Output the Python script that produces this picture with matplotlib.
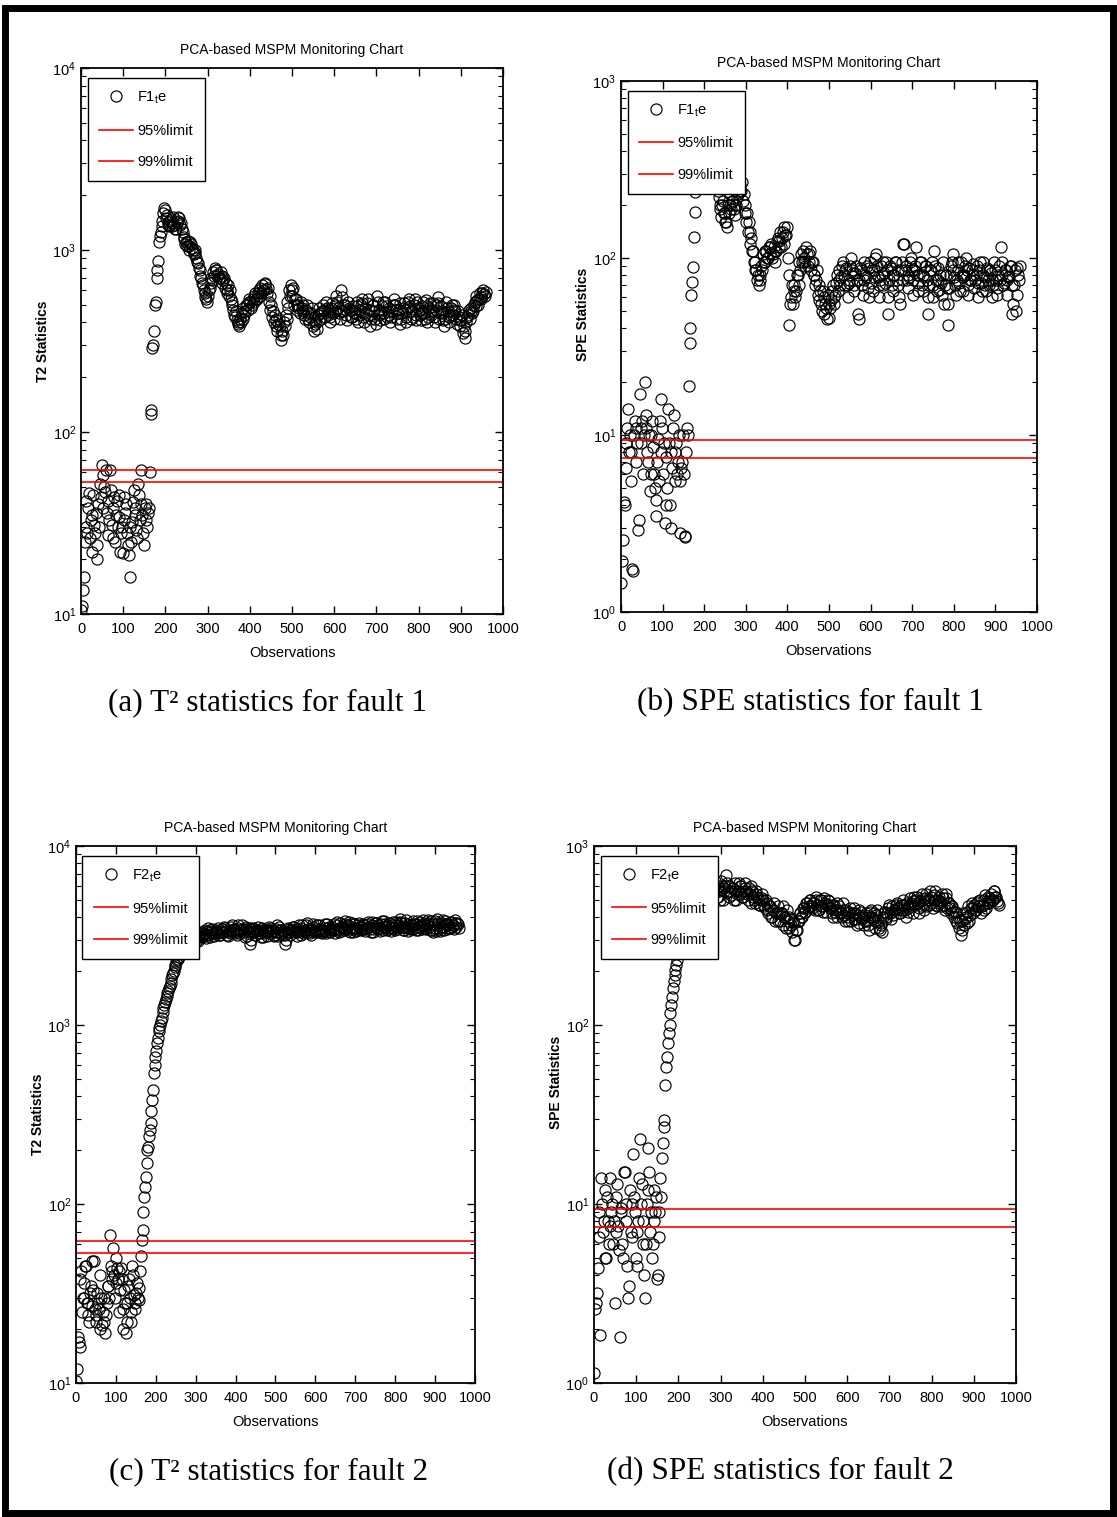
import numpy as np
import matplotlib.pyplot as plt
from matplotlib import font_manager
from matplotlib.patches import Rectangle
from matplotlib.ticker import LogLocator, MultipleLocator, NullFormatter

# fuentes: Arial Narrow-like si existe
names = {f.name for f in font_manager.fontManager.ttflist}
narrow = 'Liberation Sans Narrow' if 'Liberation Sans Narrow' in names else 'Liberation Sans'
plt.rcParams['font.family'] = [narrow, 'DejaVu Sans']
plt.rcParams['mathtext.fontset'] = 'custom'
plt.rcParams['mathtext.rm'] = narrow

# DATOS (una muestra cada 2 observaciones: 1, 3, 5, ...)
t2_fault1 = [
    10.5, 11, 13.5, 16, 25, 42, 30, 28, 38, 46,
    26, 33, 35, 22, 45, 31, 28, 36, 24, 20,
    40, 30, 52, 44, 66, 38, 58, 50, 47, 62,
    36, 42, 27, 33, 62, 48, 31, 26, 38, 44,
    25, 35, 42, 30, 34, 45, 22, 28, 30, 21.5,
    44, 33, 36, 40, 28, 24, 21, 30, 16, 25,
    32, 41, 48, 35, 38, 29, 26, 52, 45, 33,
    62, 40, 35, 28, 24, 38, 40, 33, 30, 36,
    38, 60, 125, 132, 290, 300, 360, 500, 520, 700,
    780, 870, 1100, 1200, 1250, 1350, 1450, 1600, 1700, 1650,
    1500, 1550, 1420, 1380, 1350, 1450, 1480, 1350, 1520, 1400,
    1380, 1300, 1300, 1420, 1450, 1520, 1500, 1380, 1400, 1300,
    1250, 1180, 1150, 1080, 1100, 1050, 1120, 1000, 1050, 1100,
    1080, 1020, 1000, 950, 960, 1000, 900, 860, 850, 800,
    780, 720, 700, 660, 640, 600, 580, 550, 540, 520,
    560, 600, 620, 660, 700, 680, 760, 720, 800, 780,
    780, 720, 740, 700, 700, 760, 720, 660, 680, 700,
    620, 660, 580, 600, 640, 560, 600, 540, 520, 500,
    470, 440, 430, 460, 410, 400, 390, 380, 420, 400,
    450, 420, 480, 440, 460, 500, 500, 470, 540, 520,
    520, 480, 500, 540, 560, 520, 580, 540, 540, 580,
    600, 560, 620, 580, 640, 600, 600, 660, 650, 610,
    580, 620, 520, 560, 470, 500, 430, 460, 400, 440,
    380, 410, 360, 390, 420, 380, 340, 320, 360, 340,
    400, 380, 440, 420, 520, 480, 600, 560, 640, 600,
    560, 620, 500, 540, 540, 500, 470, 500, 480, 450,
    520, 480, 460, 500, 440, 420, 470, 500, 420, 450,
    400, 430, 450, 480, 380, 410, 360, 390, 400, 370,
    440, 410, 480, 450, 420, 460, 500, 470, 460, 430,
    520, 480, 440, 470, 400, 430, 480, 510, 450, 420,
    500, 460, 560, 520, 480, 450, 420, 460, 600, 550,
    460, 500, 500, 470, 440, 410, 520, 480, 470, 430,
    430, 470, 490, 450, 450, 420, 520, 490, 400, 440,
    470, 500, 540, 510, 430, 400, 480, 450, 510, 540,
    440, 470, 380, 420, 460, 500, 500, 460, 420, 390,
    560, 520, 470, 440, 410, 450, 490, 520, 450, 420,
    520, 490, 430, 460, 480, 440, 400, 430, 460, 500,
    540, 500, 500, 470, 420, 450, 470, 510, 390, 420,
    450, 480, 510, 470, 430, 400, 480, 520, 540, 490,
    420, 460, 460, 430, 500, 540, 440, 410, 520, 480,
    470, 440, 410, 450, 490, 520, 450, 420, 530, 490,
    400, 430, 480, 510, 440, 470, 510, 460, 430, 400,
    470, 500, 550, 510, 420, 450, 490, 460, 450, 410,
    380, 420, 520, 480, 460, 430, 400, 440, 480, 500,
    440, 470, 500, 460, 420, 390, 460, 430, 380, 410,
    410, 440, 350, 380, 330, 360, 400, 430, 440, 470,
    420, 460, 480, 450, 460, 500, 520, 490, 560, 530,
    500, 540, 580, 550, 540, 580, 600, 570, 560, 590]

spe_fault1 = [
    1.45, 1.95, 2.55, 4.2, 4.0, 6.5, 9, 11, 14, 8,
    10, 5.5, 8, 1.75, 1.7, 10, 12, 7, 11, 9,
    2.9, 3.3, 17, 11, 9, 12, 6, 10, 20, 13,
    11, 8, 7, 10, 4.8, 6, 10, 12, 8.5, 6,
    5, 4.3, 3.5, 7, 9.5, 5.5, 12, 8, 16, 11,
    6, 9, 3.2, 4, 7.5, 5, 14, 9, 4, 3,
    8, 6.5, 11, 13, 5.5, 8, 9, 6, 7, 10,
    2.8, 5.5, 6.5, 7, 10, 6, 2.7, 2.65, 8, 11,
    10, 19, 33, 40, 62, 73, 89, 131, 182, 235,
    260, 280, 300, 320, 290, 310, 300, 280, 270, 300,
    290, 310, 300, 280, 270, 300, 280, 290, 260, 280,
    290, 300, 270, 280, 260, 250, 240, 220, 200, 190,
    170, 200, 210, 180, 180, 160, 160, 150, 200, 180,
    230, 200, 190, 210, 210, 190, 175, 200, 200, 220,
    230, 250, 260, 240, 240, 270, 210, 230, 180, 200,
    160, 180, 140, 160, 120, 140, 130, 110, 110, 95,
    95, 85, 85, 75, 80, 70, 75, 80, 90, 85,
    105, 95, 95, 110, 110, 100, 100, 115, 115, 105,
    120, 100, 105, 115, 95, 110, 110, 125, 130, 115,
    125, 140, 115, 130, 140, 120, 150, 135, 135, 150,
    100, 80, 42, 55, 60, 70, 55, 65, 70, 60,
    65, 80, 80, 70, 95, 85, 105, 95, 110, 95,
    100, 90, 115, 105, 90, 95, 105, 110, 85, 95,
    95, 80, 80, 70, 75, 85, 62, 70, 58, 65,
    55, 50, 65, 60, 48, 55, 52, 45, 62, 55,
    46, 52, 58, 65, 70, 60, 55, 62, 72, 80,
    65, 75, 85, 70, 78, 90, 95, 80, 70, 85,
    88, 70, 60, 72, 75, 90, 100, 85, 82, 65,
    70, 82, 90, 75, 48, 45, 75, 88, 85, 70,
    62, 75, 95, 80, 78, 90, 68, 60, 88, 95,
    72, 85, 65, 78, 85, 100, 105, 90, 78, 70,
    60, 75, 90, 80, 70, 95, 82, 72, 95, 85,
    48, 60, 75, 90, 88, 70, 65, 80, 80, 95,
    95, 75, 70, 85, 60, 55, 85, 95, 75, 120,
    120, 85, 90, 75, 68, 80, 78, 95, 100, 85,
    62, 75, 85, 90, 115, 80, 72, 65, 80, 95,
    95, 70, 65, 80, 78, 90, 90, 75, 48, 60,
    70, 85, 85, 95, 60, 70, 110, 90, 75, 65,
    88, 75, 66, 80, 72, 62, 95, 80, 55, 70,
    80, 68, 42, 55, 68, 80, 90, 95, 105, 85,
    78, 70, 62, 75, 85, 95, 72, 65, 95, 80,
    65, 78, 80, 90, 100, 85, 70, 62, 88, 75,
    75, 85, 92, 80, 68, 75, 80, 90, 60, 72,
    85, 95, 72, 65, 95, 80, 78, 70, 65, 85,
    88, 75, 70, 85, 82, 75, 60, 70, 95, 85,
    75, 62, 68, 80, 90, 75, 115, 95, 80, 70,
    72, 85, 85, 75, 62, 78, 78, 90, 90, 70,
    48, 55, 70, 85, 50, 62, 88, 80, 75, 90]

t2_fault2 = [
    10.2, 12, 18, 17, 15.8, 38, 42, 25, 30, 36,
    30, 45, 45, 28, 28, 24, 22, 32, 35, 48,
    27, 33, 48, 26, 24, 22, 32, 28, 26, 20,
    40, 30, 21, 25, 30, 22, 19, 24, 28, 35,
    35, 30, 67, 45, 42, 38, 57, 40, 30, 36,
    50, 44, 38, 42, 25, 33, 44, 38, 20, 26,
    33, 28, 19, 22, 28, 35, 38, 30, 22, 25,
    45, 40, 31, 28, 26, 32, 36, 30, 29, 34,
    42, 51, 63, 72, 90, 110, 125, 141, 170, 200,
    209, 240, 260, 283, 330, 380, 433, 540, 600, 660,
    720, 790, 850, 920, 960, 1000, 1050, 1100, 1180, 1250,
    1300, 1350, 1400, 1450, 1500, 1550, 1600, 1650, 1720, 1800,
    1900, 1950, 2000, 2100, 2150, 2250, 2300, 2350, 2400, 2500,
    2550, 2650, 2700, 2740, 2800, 2650, 2750, 2900, 2900, 2850,
    2950, 3050, 3000, 2900, 2850, 3050, 3100, 3000, 3050, 3150,
    3200, 3000, 2950, 3100, 3150, 3250, 3300, 3100, 3100, 3200,
    3250, 3400, 3050, 3200, 3350, 3500, 3200, 3100, 3400, 3300,
    3450, 3250, 3300, 3150, 3250, 3400, 3350, 3500, 3250, 3200,
    3200, 3350, 3450, 3300, 3300, 3550, 3500, 3350, 3350, 3200,
    3150, 3300, 3400, 3250, 3550, 3600, 3300, 3400, 3450, 3250,
    3350, 3200, 3500, 3600, 3250, 3400, 3400, 3300, 3600, 3450,
    3300, 3100, 3450, 3550, 3150, 3300, 3350, 3500, 2850, 3000,
    3300, 3500, 3450, 3300, 3200, 3350, 3400, 3250, 3550, 3400,
    3250, 3100, 3350, 3500, 3100, 3250, 3450, 3350, 3300, 3150,
    3400, 3550, 3250, 3400, 3500, 3300, 3350, 3200, 3150, 3300,
    3450, 3600, 3300, 3150, 3550, 3400, 3400, 3250, 3200, 3350,
    3350, 3200, 2850, 3000, 3300, 3500, 3450, 3300, 3200, 3400,
    3400, 3550, 3550, 3350, 3300, 3450, 3150, 3300, 3450, 3600,
    3350, 3200, 3500, 3600, 3250, 3350, 3400, 3300, 3600, 3700,
    3300, 3450, 3450, 3250, 3200, 3400, 3550, 3650, 3350, 3300,
    3450, 3600, 3300, 3400, 3600, 3450, 3400, 3300, 3250, 3350,
    3500, 3650, 3350, 3250, 3650, 3500, 3400, 3550, 3300, 3450,
    3550, 3400, 3400, 3650, 3250, 3400, 3600, 3750, 3450, 3300,
    3700, 3550, 3350, 3500, 3500, 3400, 3800, 3650, 3450, 3550,
    3600, 3750, 3400, 3300, 3550, 3700, 3300, 3450, 3650, 3500,
    3500, 3350, 3400, 3600, 3700, 3550, 3550, 3400, 3450, 3650,
    3600, 3450, 3350, 3500, 3500, 3650, 3750, 3550, 3450, 3300,
    3600, 3750, 3300, 3450, 3550, 3700, 3700, 3500, 3450, 3600,
    3500, 3350, 3650, 3800, 3400, 3550, 3800, 3650, 3550, 3400,
    3450, 3600, 3700, 3500, 3350, 3500, 3600, 3750, 3500, 3400,
    3750, 3600, 3450, 3550, 3600, 3750, 3900, 3700, 3550, 3400,
    3400, 3550, 3700, 3850, 3500, 3350, 3650, 3500, 3450, 3600,
    3600, 3450, 3800, 3650, 3500, 3400, 3650, 3800, 3400, 3550,
    3750, 3600, 3550, 3450, 3850, 3700, 3600, 3500, 3450, 3600,
    3700, 3850, 3550, 3400, 3800, 3650, 3400, 3300, 3650, 3800,
    3500, 3350, 3900, 3700, 3600, 3450, 3350, 3550, 3700, 3850,
    3550, 3400, 3800, 3650, 3450, 3600, 3650, 3500, 3500, 3750,
    3750, 3550, 3600, 3450, 3850, 3700, 3550, 3700, 3650, 3500]

spe_fault2 = [
    1.14, 2.6, 2.8, 3.2, 4.4, 9, 6.5, 1.86, 14, 10,
    7, 8, 12, 5, 5, 11, 8, 6, 14, 7.5,
    9, 10, 6, 8, 2.8, 7, 11, 13, 7.5, 5.5,
    1.8, 9, 9.5, 6, 5, 15, 15, 10, 8, 4.5,
    3.0, 3.5, 12, 7, 6.5, 10, 19, 11, 9, 5,
    4.5, 7, 8, 14, 23, 10, 13, 8, 6, 4,
    3.0, 6, 10, 12, 20.5, 15, 7, 9, 5, 6,
    12, 8, 9, 11, 3.8, 4, 6.5, 9, 14, 11,
    18, 22, 27, 29.5, 46, 58, 66, 79, 90, 100,
    117, 130, 144, 160, 175, 190, 203, 215, 230, 260,
    300, 330, 360, 400, 430, 460, 480, 500, 520, 540,
    560, 540, 580, 560, 600, 580, 560, 620, 600, 580,
    620, 580, 600, 640, 550, 600, 640, 580, 580, 540,
    520, 600, 600, 560, 560, 500, 620, 580, 540, 620,
    540, 580, 600, 640, 580, 520, 520, 600, 560, 500,
    640, 600, 500, 560, 580, 600, 690, 620, 550, 520,
    600, 560, 530, 580, 580, 500, 620, 560, 500, 540,
    560, 620, 540, 600, 600, 520, 520, 560, 580, 620,
    560, 540, 500, 580, 540, 480, 600, 560, 520, 500,
    480, 540, 560, 520, 510, 470, 470, 500, 540, 510,
    500, 460, 450, 500, 480, 440, 420, 460, 460, 400,
    400, 440, 440, 480, 380, 420, 420, 380, 460, 420,
    380, 420, 420, 460, 360, 400, 400, 350, 440, 380,
    350, 400, 390, 360, 330, 380, 370, 300, 300, 340,
    340, 380, 380, 420, 420, 400, 400, 450, 450, 430,
    430, 480, 480, 450, 460, 500, 500, 460, 450, 480,
    480, 440, 520, 500, 470, 440, 440, 500, 500, 460,
    460, 430, 510, 480, 430, 470, 470, 500, 490, 450,
    450, 470, 420, 400, 470, 430, 440, 480, 400, 440,
    460, 420, 430, 400, 480, 440, 410, 380, 440, 420,
    400, 380, 430, 450, 380, 410, 420, 390, 450, 420,
    390, 360, 410, 440, 370, 400, 430, 390, 400, 360,
    380, 410, 420, 380, 360, 340, 400, 430, 440, 400,
    390, 420, 350, 380, 410, 440, 380, 350, 340, 370,
    360, 330, 400, 430, 430, 400, 390, 420, 450, 470,
    420, 390, 460, 430, 410, 440, 440, 470, 480, 450,
    450, 420, 420, 470, 470, 440, 500, 470, 440, 400,
    480, 450, 430, 470, 510, 480, 460, 420, 490, 520,
    470, 500, 520, 480, 450, 420, 490, 460, 540, 500,
    470, 440, 510, 540, 460, 500, 500, 470, 560, 520,
    480, 450, 530, 560, 500, 470, 460, 500, 520, 480,
    490, 460, 540, 510, 470, 440, 510, 540, 450, 480,
    480, 450, 420, 460, 460, 430, 400, 430, 430, 380,
    370, 400, 350, 380, 318, 340, 380, 420, 360, 390,
    400, 370, 430, 460, 380, 410, 450, 480, 420, 450,
    470, 440, 440, 480, 490, 460, 460, 500, 420, 460,
    470, 440, 500, 530, 450, 480, 520, 490, 480, 510,
    540, 500, 500, 560, 560, 520, 520, 490, 480, 470]

# limites de control
t2_lim95, t2_lim99 = 53, 62
spe_lim95, spe_lim99 = 7.4, 9.4

W, H = 1117, 1517
fig = plt.figure(figsize=(W / 100, H / 100), dpi=100)

# (pixel box izq, der, arriba, abajo), datos, ylim, limites, ylabel, leyenda, caption, pos caption, ylabel y
paneles = [
    ((81, 503, 68, 614), t2_fault1, (10, 1e4), (t2_lim95, t2_lim99), 'T2 Statistics',
     r'F1$_{\mathrm{t}}$e', '(a) T² statistics for fault 1', (268, 703), 0.5),
    ((621, 1037, 81, 612), spe_fault1, (1, 1e3), (spe_lim95, spe_lim99), 'SPE Statistics',
     r'F1$_{\mathrm{t}}$e', '(b) SPE statistics for fault 1', (810, 703), 0.56),
    ((76, 475, 846, 1383), t2_fault2, (10, 1e4), (t2_lim95, t2_lim99), 'T2 Statistics',
     r'F2$_{\mathrm{t}}$e', '(c) T² statistics for fault 2', (269, 1472), 0.5),
    ((594, 1016, 846, 1383), spe_fault2, (1, 1e3), (spe_lim95, spe_lim99), 'SPE Statistics',
     r'F2$_{\mathrm{t}}$e', '(d) SPE statistics for fault 2', (780, 1472), 0.56),
]

for (x0, x1, y0, y1), vals, ylim, lims, ylab, leg, cap, (cx, cy), ylab_y in paneles:
    ax = fig.add_axes([x0 / W, 1 - y1 / H, (x1 - x0) / W, (y1 - y0) / H])
    obs = np.arange(1, 2 * len(vals), 2)
    ax.plot(obs, vals, 'o', mfc='none', mec='k', ms=8, mew=0.85, label=leg)
    ax.axhline(lims[0], color='red', lw=1.2, label='95%limit')
    ax.axhline(lims[1], color='red', lw=1.2, label='99%limit')
    ax.set_yscale('log')
    ax.set_xlim(0, 1000); ax.set_ylim(*ylim)
    ax.xaxis.set_major_locator(MultipleLocator(100))
    ax.yaxis.set_major_locator(LogLocator(base=10))
    ax.yaxis.set_minor_locator(LogLocator(base=10, subs=np.arange(2, 10)))
    ax.yaxis.set_minor_formatter(NullFormatter())
    ax.tick_params(which='both', direction='in', top=True, right=True, labelsize=10.5)
    ax.tick_params(which='major', length=6, width=1)
    ax.tick_params(which='minor', length=3.5, width=0.8)
    ax.tick_params(axis='x', pad=6)
    for s in ax.spines.values():
        s.set_linewidth(1.3)
    ax.set_title('PCA-based MSPM Monitoring Chart', fontsize=10, pad=10)
    ax.set_xlabel('Observations', fontsize=10.5, labelpad=7)
    ax.set_ylabel(ylab, fontsize=10, fontweight='bold', family=['Liberation Sans', 'DejaVu Sans'])
    ax.yaxis.set_label_coords(-31 / (x1 - x0), ylab_y)
    lg = ax.legend(loc='upper left', bbox_to_anchor=(0.016, 0.982), borderaxespad=0,
                   fontsize=10.5, fancybox=False, framealpha=1, edgecolor='k',
                   handlelength=2.3, handletextpad=0.3, labelspacing=1.2, borderpad=0.8)
    lg.get_frame().set_linewidth(1.0)
    fig.text(cx / W, 1 - cy / H, cap, ha='center', va='center', fontsize=22.5,
             family=['Liberation Serif', 'DejaVu Serif'])

# marco negro exterior
fig.patches.append(Rectangle((4.5 / W, 4 / H), 1 - 9 / W, 1 - 12 / H, transform=fig.transFigure,
                             fill=False, lw=5, ec='k'))

fig.savefig('out.png', dpi=100)
